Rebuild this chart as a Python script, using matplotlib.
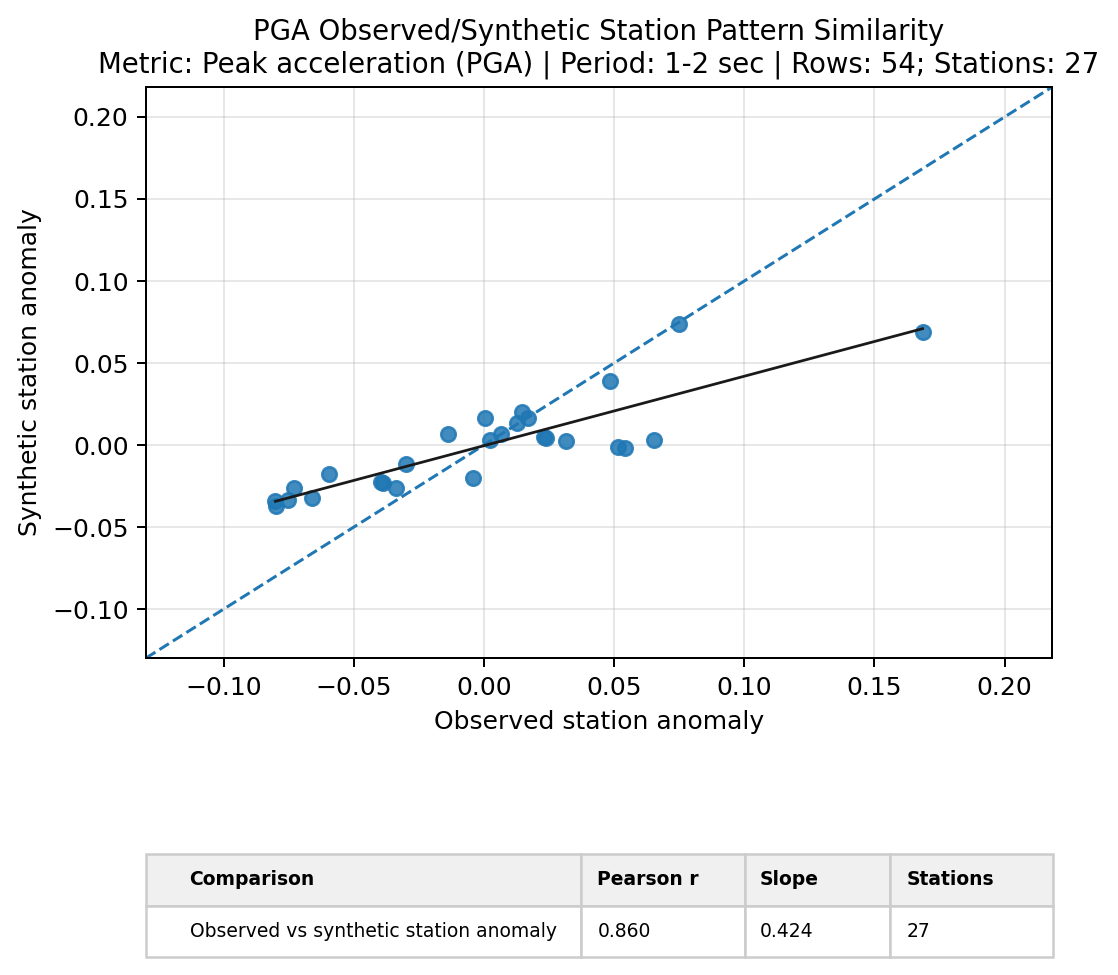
import matplotlib
matplotlib.use("Agg")
import matplotlib.pyplot as plt
import numpy as np

# station anomalies
observed = [-0.0801, -0.0800, -0.0753, -0.0728, -0.0660, -0.0596, -0.0395, -0.0387,
            -0.0337, -0.0299, -0.0137, -0.0041, 0.0004, 0.0023, 0.0067, 0.0126,
            0.0146, 0.0170, 0.0231, 0.0240, 0.0317, 0.0485, 0.0514, 0.0540,
            0.0655, 0.0750, 0.1685]
synthetic = [-0.0341, -0.0372, -0.0335, -0.0260, -0.0323, -0.0175, -0.0224, -0.0230,
             -0.0264, -0.0116, 0.0065, -0.0203, 0.0165, 0.0030, 0.0067, 0.0132,
             0.0199, 0.0165, 0.0047, 0.0041, 0.0023, 0.0390, -0.0012, -0.0020,
             0.0030, 0.0736, 0.0689]

table_cols = ["Comparison", "Pearson r", "Slope", "Stations"]
table_rows = [["Observed vs synthetic station anomaly", "0.860", "0.424", "27"]]
col_widths = [0.4796, 0.1808, 0.1599, 0.1797]

title = ("PGA Observed/Synthetic Station Pattern Similarity\n"
         "Metric: Peak acceleration (PGA) | Period: 1-2 sec | Rows: 54; Stations: 27")

DPI = 180
fig = plt.figure(figsize=(1118 / DPI, 975 / DPI), dpi=DPI)
ax = fig.add_axes([0.1306, 0.3251, 0.8104, 0.5856])

x = np.array(observed)
y = np.array(synthetic)

lo = min(x.min(), y.min())
hi = max(x.max(), y.max())
pad = 0.2 * (hi - lo)
lims = (lo - pad, hi + pad)

ax.scatter(x, y, s=34, color="C0", alpha=0.85, zorder=3)
ax.plot(lims, lims, linestyle="--", color="C0", linewidth=1.2, zorder=2)

slope, intercept = np.polyfit(x, y, 1)
xs = np.array([x.min(), x.max()])
ax.plot(xs, slope * xs + intercept, color="#1a1a1a", linewidth=1.1, zorder=4)

ax.set_xlim(lims)
ax.set_ylim(lims)
ax.set_xlabel("Observed station anomaly", fontsize=10)
ax.set_ylabel("Synthetic station anomaly", fontsize=10)
ax.set_title(title, fontsize=11)
ax.tick_params(labelsize=10)
ax.grid(True, alpha=0.3)

# summary table under the plot
tax = fig.add_axes([0.1306, 0.01846, 0.8113, 0.1056])
tax.axis("off")
tbl = tax.table(cellText=table_rows, colLabels=table_cols, colWidths=col_widths,
                cellLoc="left", colLoc="left", bbox=[0, 0, 1, 1])
tbl.auto_set_font_size(False)
tbl.set_fontsize(7.5)
for (r, c), cell in tbl.get_celld().items():
    cell.set_edgecolor("#cccccc")
    if r == 0:
        cell.set_facecolor("#f0f0f0")
        cell.get_text().set_fontweight("bold")

fig.savefig("out.png", dpi=DPI)
